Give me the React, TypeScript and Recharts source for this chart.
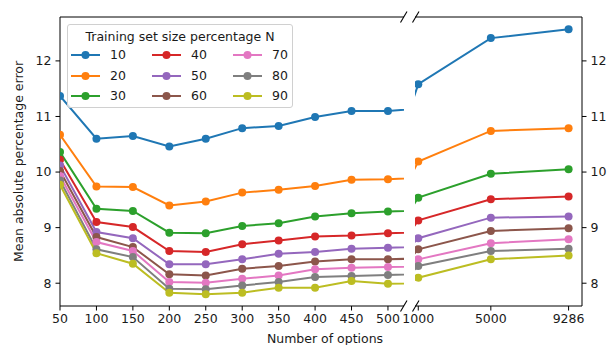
import React from 'react';
import { LineChart, Line, XAxis, YAxis, ReferenceLine } from 'recharts';

const xValues = [50, 100, 150, 200, 250, 300, 350, 400, 450, 500, 1000, 5000, 9286];
const seriesNames = ['10', '20', '30', '40', '50', '60', '70', '80', '90'];
const seriesColors = ['#1f77b4', '#ff7f0e', '#2ca02c', '#d62728', '#9467bd', '#8c564b', '#e377c2', '#7f7f7f', '#bcbd22'];

const n10 = [11.37, 10.6, 10.65, 10.46, 10.6, 10.79, 10.83, 10.99, 11.1, 11.1, 11.58, 12.41, 12.57];
const n20 = [10.67, 9.74, 9.73, 9.4, 9.47, 9.63, 9.68, 9.75, 9.86, 9.87, 10.19, 10.74, 10.79];
const n30 = [10.36, 9.34, 9.3, 8.91, 8.9, 9.03, 9.08, 9.2, 9.26, 9.29, 9.54, 9.97, 10.05];
const n40 = [10.22, 9.1, 9.01, 8.58, 8.56, 8.7, 8.77, 8.84, 8.86, 8.9, 9.13, 9.51, 9.56];
const n50 = [10.12, 8.92, 8.81, 8.34, 8.34, 8.43, 8.53, 8.56, 8.62, 8.64, 8.81, 9.18, 9.2];
const n60 = [10.02, 8.83, 8.65, 8.16, 8.14, 8.26, 8.31, 8.39, 8.43, 8.43, 8.61, 8.94, 8.99];
const n70 = [9.93, 8.74, 8.58, 8.02, 8.01, 8.08, 8.14, 8.25, 8.28, 8.29, 8.43, 8.72, 8.79];
const n80 = [9.85, 8.61, 8.47, 7.9, 7.89, 7.96, 8.02, 8.11, 8.13, 8.15, 8.31, 8.58, 8.62];
const n90 = [9.77, 8.54, 8.35, 7.83, 7.8, 7.83, 7.92, 7.92, 8.04, 7.99, 8.1, 8.43, 8.5];

const leftTicks = [50, 100, 150, 200, 250, 300, 350, 400, 450, 500];
const rightTicks = [1000, 5000, 9286];
const yTicks = [8, 9, 10, 11, 12];

const allSeries = [n10, n20, n30, n40, n50, n60, n70, n80, n90];

const data = xValues.map((x, i) => {
  const row: Record<string, number> = { x };
  seriesNames.forEach((name, s) => {
    row['n' + name] = allSeries[s][i];
  });
  return row;
});

const Y_DOMAIN: [number, number] = [7.59, 12.79];
const FONT = '"DejaVu Sans", sans-serif';
const FS = 12.5;
const tickStyle = { fontSize: FS, fontFamily: FONT, fill: '#1a1a1a' };

const renderLines = () =>
  seriesNames.map((name, s) => (
    <Line
      key={name}
      type="linear"
      dataKey={'n' + name}
      stroke={seriesColors[s]}
      strokeWidth={2}
      dot={{ r: 4, fill: seriesColors[s], stroke: seriesColors[s], strokeWidth: 0 }}
      activeDot={false}
      isAnimationActive={false}
    />
  ));

const LegendBox = () => (
  <div
    style={{
      position: 'absolute',
      left: 67,
      top: 24,
      width: 226,
      height: 84,
      boxSizing: 'border-box',
      border: '1px solid #d0d0d0',
      borderRadius: 3,
      background: 'rgba(255,255,255,0.8)',
      fontFamily: FONT,
      fontSize: FS,
      color: '#1a1a1a',
    }}
  >
    <div style={{ position: 'absolute', left: 0, width: 224, top: 4, textAlign: 'center', whiteSpace: 'nowrap' }}>
      Training set size percentage N
    </div>
    {seriesNames.map((name, s) => {
      const col = Math.floor(s / 3);
      const row = s % 3;
      const left = 3 + col * 81;
      const cy = 30 + row * 20.5;
      return (
        <div key={name} style={{ position: 'absolute', left, top: cy - 8, height: 16, width: 80 }}>
          <svg width={30} height={16} style={{ position: 'absolute', left: 0, top: 0 }}>
            <line x1={0} y1={8} x2={29} y2={8} stroke={seriesColors[s]} strokeWidth={2} />
            <circle cx={14.5} cy={8} r={4} fill={seriesColors[s]} />
          </svg>
          <span style={{ position: 'absolute', left: 39, top: 0, lineHeight: '16px' }}>{name}</span>
        </div>
      );
    })}
  </div>
);

const BreakMarks = () => (
  <svg width={612} height={345} style={{ position: 'absolute', left: 0, top: 0, pointerEvents: 'none' }}>
    {[17, 306].map((y) => (
      <g key={y} stroke="#000" strokeWidth={1.1}>
        <line x1={400.5} y1={y + 5.5} x2={407} y2={y - 5.5} />
        <line x1={412.5} y1={y + 5.5} x2={419} y2={y - 5.5} />
      </g>
    ))}
  </svg>
);

export default function App() {
  return (
    <div style={{ position: 'absolute', left: 0, top: 0, width: 612, height: 345, background: '#fff' }}>
      <div style={{ position: 'absolute', left: 0, top: 0 }}>
        <LineChart width={404} height={345} data={data} margin={{ top: 17, right: 0, bottom: 0, left: 0 }}>
          <XAxis
            dataKey="x"
            type="number"
            domain={[50, 522]}
            allowDataOverflow
            ticks={leftTicks}
            interval={0}
            height={39}
            tick={tickStyle}
            tickSize={4.5}
            tickMargin={4}
            stroke="#000"
            label={{
              content: () => (
                <text x={325} y={343} textAnchor="middle" fontFamily={FONT} fontSize={FS} fill="#1a1a1a">
                  Number of options
                </text>
              ),
            }}
          />
          <YAxis
            type="number"
            domain={Y_DOMAIN}
            allowDataOverflow
            ticks={yTicks}
            width={60}
            tick={tickStyle}
            tickSize={4.5}
            tickMargin={4}
            stroke="#000"
            label={{
              content: () => (
                <text
                  x={18}
                  y={161.5}
                  transform="rotate(-90 18 161.5)"
                  textAnchor="middle"
                  dominantBaseline="central"
                  fontFamily={FONT}
                  fontSize={FS}
                  fill="#1a1a1a"
                >
                  Mean absolute percentage error
                </text>
              ),
            }}
          />
          <ReferenceLine y={Y_DOMAIN[1]} stroke="#000" strokeWidth={1} />
          {renderLines()}
        </LineChart>
      </div>
      <div style={{ position: 'absolute', left: 385, top: 0 }}>
        <LineChart width={227} height={345} data={data} margin={{ top: 17, right: 0, bottom: 0, left: 30 }}>
          <XAxis
            dataKey="x"
            type="number"
            domain={[820, 10025]}
            allowDataOverflow
            ticks={rightTicks}
            interval={0}
            height={39}
            tick={tickStyle}
            tickSize={4.5}
            tickMargin={4}
            stroke="#000"
          />
          <YAxis
            type="number"
            orientation="right"
            domain={Y_DOMAIN}
            allowDataOverflow
            ticks={yTicks}
            width={30}
            tick={{ ...tickStyle, textAnchor: 'start' }}
            tickSize={4.5}
            tickMargin={4}
            stroke="#000"
          />
          <ReferenceLine y={Y_DOMAIN[1]} stroke="#000" strokeWidth={1} />
          {renderLines()}
        </LineChart>
      </div>
      <LegendBox />
      <BreakMarks />
    </div>
  );
}
